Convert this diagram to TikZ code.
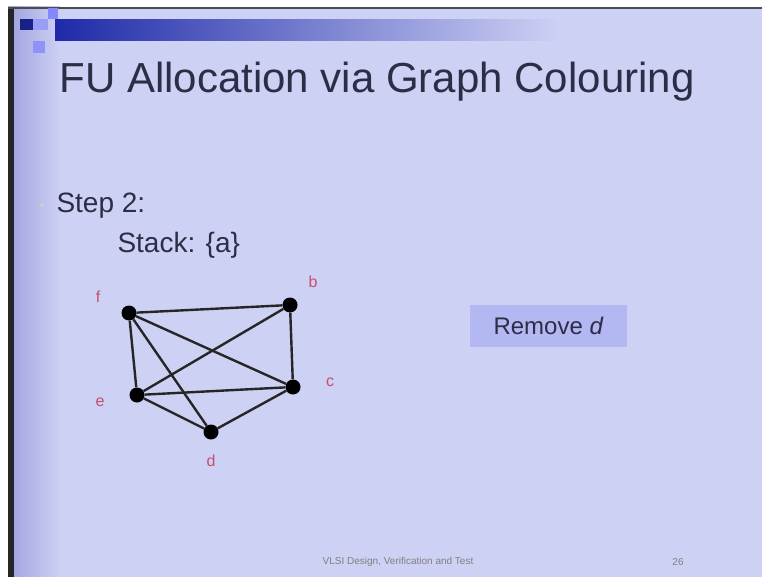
\documentclass[tikz,border=0pt]{standalone}
\usepackage{fontspec}
\setmainfont{Liberation Sans}
\usetikzlibrary{positioning}
\definecolor{slidebg}{HTML}{CDD1F4}
\definecolor{slideink}{HTML}{2B2E45}
\definecolor{labink}{HTML}{C4506E}
\definecolor{barblue}{HTML}{1E2AA8}
\definecolor{boxblue}{HTML}{B3B7F2}
\definecolor{edgeblue}{HTML}{9EA2DE}
\tikzset{
  vtx/.style={circle,fill=black,inner sep=0pt,minimum size=15pt},
  vlab/.style={text=labink,font=\fontsize{16}{16}\selectfont},
  edge/.style={line width=2.4pt,black!85},
  slidetext/.style={anchor=base west,text=slideink,font=\fontsize{28}{28}\selectfont}
}
\begin{document}
\begin{tikzpicture}[x=1pt,y=-1pt]
\useasboundingbox (0,0) rectangle (762,577);
% screen and slide
\fill[white] (0,0) rectangle (762,577);
\fill[slidebg] (8,7) rectangle (762,577);
\shade[left color=edgeblue,right color=slidebg] (8,7) rectangle (60,577);
\fill[black!85] (8,7) rectangle (14,577);
\fill[black!70] (8,7) rectangle (762,9);
% header bar and squares
\shade[left color=barblue,right color=slidebg] (55,20) rectangle (560,41);
\fill[barblue!80!black] (20,19) rectangle (33,30);
\fill[blue!35!slidebg] (48,8) rectangle (58,19);
\fill[blue!25!slidebg] (33,19) rectangle (48,30);
\fill[blue!30!slidebg] (33,41) rectangle (45,53);
% title
\node[anchor=base west,text=slideink,font=\fontsize{42}{42}\selectfont] (title) at (56,93) {FU Allocation via Graph Colouring};
% text
\fill[black!20] (42,205) circle (2pt);
\node[slidetext] (step) at (53,213) {Step 2:};
\node[slidetext] (stack) at (114,252) {Stack: \{a\}};
\node[fill=boxblue,text=slideink,font=\fontsize{24}{24}\selectfont,minimum width=157pt,minimum height=42pt] (remove) at (548.5,326) {Remove \textit{d}};
% graph
\foreach \v/\x/\y in {f/129/313,b/290/305,c/293/387,e/137/395,d/211/432}{
  \node[vtx] (\v) at (\x,\y) {};
}
\foreach \u/\w in {f/b,f/e,f/c,f/d,b/e,b/c,e/c,e/d,d/c}{
  \draw[edge] (\u) -- (\w);
}
\node[vlab] (fl) at (98,297) {f};
\node[vlab] (bl) at (313,282) {b};
\node[vlab] (cl) at (330,382) {c};
\node[vlab] (el) at (100,402) {e};
\node[vlab] (dl) at (211,461) {d};
% footer
\node[text=black!50,font=\fontsize{10}{10}\selectfont] (foot) at (398,562) {VLSI Design, Verification and Test};
\node[text=black!50,font=\fontsize{10}{10}\selectfont] (page) at (678,562) {26};
\end{tikzpicture}
\end{document}
